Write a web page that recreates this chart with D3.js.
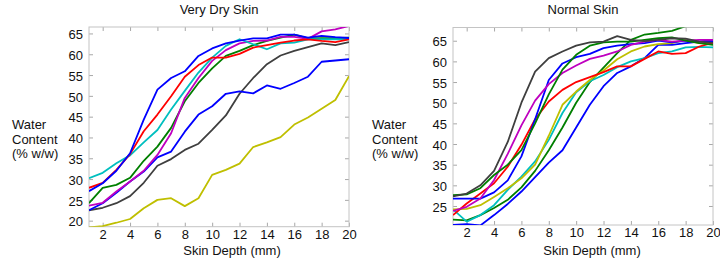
<!DOCTYPE html>
<html>
<head>
<meta charset="utf-8">
<script src="https://cdn.jsdelivr.net/npm/d3@7"></script>
<style>
  body { margin: 0; background: #fff; }
  svg { display: block; font-family: "Liberation Sans", Arial, sans-serif; }
</style>
</head>
<body>
<svg id="chart" width="720" height="259"></svg>
<script>
// skin depth in mm, shared by both panels
const depth = [1, 2, 3, 4, 5, 6, 7, 8, 9, 10, 11, 12, 13, 14, 15, 16, 17, 18, 19, 20];
const xTicks = [2, 4, 6, 8, 10, 12, 14, 16, 18, 20];
const dryYTicks = [20, 25, 30, 35, 40, 45, 50, 55, 60, 65];
const normalYTicks = [25, 30, 35, 40, 45, 50, 55, 60, 65];

// Very dry skin (% w/w)
const dryBlue1   = [27.1, 29.0, 32.0, 36.2, 44.3, 51.5, 54.3, 55.9, 59.6, 61.4, 62.6, 63.3, 63.8, 63.8, 64.7, 64.7, 64.0, 64.4, 64.1, 63.9];
const dryRed     = [27.9, 29.1, 32.2, 36.0, 41.5, 45.5, 49.9, 54.6, 57.4, 59.2, 59.2, 60.1, 61.6, 62.2, 62.8, 63.3, 63.6, 63.2, 62.9, 63.6];
const dryCyan    = [30.2, 31.5, 33.8, 35.7, 38.8, 41.8, 46.7, 51.2, 55.6, 59.2, 62.0, 63.6, 62.4, 61.2, 62.6, 62.8, 63.6, 63.6, 63.6, 63.6];
const dryMagenta = [23.6, 24.3, 27.0, 29.4, 32.0, 35.8, 41.0, 49.5, 54.3, 58.4, 61.0, 62.6, 63.2, 63.3, 64.2, 64.2, 63.7, 65.5, 66.0, 66.8];
const dryGreen   = [24.2, 27.9, 28.6, 30.3, 34.4, 37.8, 42.3, 48.7, 53.1, 56.6, 59.6, 60.8, 62.2, 63.2, 64.0, 64.7, 63.8, 63.9, 63.9, 64.0];
const dryBlue2   = [22.5, 24.2, 26.7, 29.4, 31.8, 35.2, 36.6, 41.4, 45.5, 47.5, 50.5, 51.1, 50.6, 52.5, 51.7, 53.1, 54.6, 58.2, 58.5, 58.8];
const dryBlack   = [22.5, 23.1, 24.2, 25.9, 29.1, 33.2, 34.8, 37.0, 38.5, 41.8, 45.3, 50.5, 54.3, 57.6, 59.7, 60.8, 61.7, 62.6, 62.2, 62.9];
const dryYellow  = [18.4, 18.7, 19.5, 20.4, 23.0, 25.0, 25.4, 23.5, 25.4, 31.0, 32.2, 33.7, 37.7, 38.8, 40.1, 43.1, 44.8, 46.9, 49.0, 54.7];

// Normal skin (% w/w)
const normBlack   = [27.3, 28.0, 30.0, 33.5, 40.5, 50.0, 57.5, 60.8, 62.4, 63.8, 64.6, 64.8, 66.1, 65.2, 64.9, 65.2, 65.6, 65.5, 64.8, 64.5];
const normMagenta = [23.8, 24.8, 26.8, 31.3, 37.6, 44.5, 50.5, 54.5, 57.2, 59.0, 60.6, 61.4, 62.4, 64.0, 64.8, 65.2, 64.8, 65.0, 65.2, 65.2];
const normBlue1   = [26.8, 26.8, 26.8, 28.3, 31.2, 37.0, 46.0, 55.5, 59.5, 61.0, 61.8, 63.2, 63.8, 64.2, 64.4, 65.0, 64.6, 65.0, 64.8, 65.2];
const normBlue2   = [20.4, 20.6, 20.3, 22.8, 25.5, 28.5, 32.0, 35.5, 38.5, 44.0, 49.5, 54.0, 57.2, 58.8, 60.8, 64.0, 64.0, 64.4, 64.8, 64.8];
const normRed     = [22.8, 25.6, 28.0, 30.5, 34.5, 39.8, 46.0, 50.3, 53.1, 55.0, 56.2, 57.4, 58.8, 58.8, 60.6, 62.4, 61.8, 62.0, 63.6, 64.5];
const normYellow  = [24.2, 24.3, 25.2, 27.2, 29.3, 31.7, 35.0, 42.0, 49.5, 52.7, 55.5, 57.8, 60.5, 62.4, 63.6, 64.2, 64.4, 65.2, 64.4, 64.4];
const normCyan    = [24.2, 21.2, 22.8, 25.2, 28.9, 32.1, 35.8, 41.0, 47.5, 52.5, 55.2, 56.7, 58.6, 60.0, 60.8, 62.0, 62.4, 63.4, 63.5, 63.4];
const normGreen1  = [27.6, 27.8, 29.3, 32.5, 35.0, 38.5, 45.0, 52.0, 58.0, 61.6, 63.8, 64.6, 64.8, 64.8, 65.2, 65.6, 65.8, 65.0, 64.4, 64.0];
const normGreen2  = [21.7, 21.5, 22.8, 24.5, 26.5, 29.5, 33.5, 38.5, 44.0, 50.0, 55.0, 58.5, 62.0, 65.2, 66.5, 66.9, 67.4, 68.5, 68.8, 68.5];

const COLORS = {
    blue: "#0000ff", red: "#ff0000", cyan: "#00bfbf", magenta: "#bf00bf",
    green: "#007f00", black: "#3f3f3f", yellow: "#bfbf00"
};
const FRAME = "#c4c4c4";
const TICK = "#a8a8a8";

const panels = [
    {
        title: "Very Dry Skin", left: 89, top: 27, bottom: 226.7, yDomain: [18.55, 66.55], yTicks: dryYTicks,
        titleX: 219, xLabelX: 232, yLabelX: 12,
        series: [
            [dryYellow, COLORS.yellow], [dryBlack, COLORS.black], [dryBlue2, COLORS.blue],
            [dryGreen, COLORS.green], [dryMagenta, COLORS.magenta], [dryCyan, COLORS.cyan],
            [dryRed, COLORS.red], [dryBlue1, COLORS.blue]
        ]
    },
    {
        title: "Normal Skin", left: 453, top: 27.5, bottom: 225, yDomain: [20.4, 68.2], yTicks: normalYTicks,
        titleX: 583, xLabelX: 592, yLabelX: 372,
        series: [
            [normBlue2, COLORS.blue], [normGreen2, COLORS.green], [normCyan, COLORS.cyan],
            [normYellow, COLORS.yellow], [normRed, COLORS.red], [normBlue1, COLORS.blue],
            [normMagenta, COLORS.magenta], [normGreen1, COLORS.green], [normBlack, COLORS.black]
        ]
    }
];

const svg = d3.select("#chart");
svg.append("rect").attr("width", 720).attr("height", 259).attr("fill", "#fff");

panels.forEach((p, i) => drawPanel(p, i));

function drawPanel(p, idx) {
    const width = 260;
    const right = p.left + width;
    const x = d3.scaleLinear().domain([1, 20]).range([p.left, right]);
    const y = d3.scaleLinear().domain(p.yDomain).range([p.bottom, p.top]);

    const g = svg.append("g");

    g.append("clipPath").attr("id", `clip${idx}`)
        .append("rect")
        .attr("x", p.left).attr("y", p.top)
        .attr("width", width).attr("height", p.bottom - p.top);

    // inward ticks on all four sides
    const styleAxis = sel => {
        sel.select(".domain").remove();
        sel.selectAll(".tick line").attr("stroke", TICK);
        sel.selectAll(".tick text").attr("fill", "#111").style("font-size", "13px");
    };

    g.append("g").attr("transform", `translate(0,${p.bottom})`)
        .call(d3.axisBottom(x).tickValues(xTicks).tickSizeInner(-4).tickSizeOuter(0).tickPadding(3))
        .call(styleAxis);
    g.append("g").attr("transform", `translate(0,${p.top})`)
        .call(d3.axisTop(x).tickValues(xTicks).tickSizeInner(-4).tickSizeOuter(0).tickFormat(""))
        .call(styleAxis);
    g.append("g").attr("transform", `translate(${p.left},0)`)
        .call(d3.axisLeft(y).tickValues(p.yTicks).tickSizeInner(-4).tickSizeOuter(0).tickPadding(6))
        .call(styleAxis)
        .call(s => s.selectAll(".tick text").attr("dy", "0.4em"));
    g.append("g").attr("transform", `translate(${right},0)`)
        .call(d3.axisRight(y).tickValues(p.yTicks).tickSizeInner(-4).tickSizeOuter(0).tickFormat(""))
        .call(styleAxis);

    g.append("rect")
        .attr("x", p.left).attr("y", p.top)
        .attr("width", width).attr("height", p.bottom - p.top)
        .attr("fill", "none").attr("stroke", FRAME);

    const line = d3.line().x((d, j) => x(depth[j])).y(d => y(d));

    g.append("g").attr("clip-path", `url(#clip${idx})`)
        .selectAll("path")
        .data(p.series)
        .join("path")
        .attr("fill", "none")
        .attr("stroke", d => d[1])
        .attr("stroke-width", 1.8)
        .attr("stroke-linejoin", "round")
        .attr("d", d => line(d[0]));

    g.append("text")
        .attr("x", p.titleX).attr("y", 14)
        .attr("text-anchor", "middle")
        .style("font-size", "13px").attr("fill", "#111")
        .text(p.title);

    g.append("text")
        .attr("x", p.xLabelX).attr("y", 255)
        .attr("text-anchor", "middle")
        .style("font-size", "13px").attr("fill", "#111")
        .text("Skin Depth (mm)");

    const yl = g.append("text")
        .attr("x", p.yLabelX).attr("y", 129)
        .style("font-size", "13px").attr("fill", "#111");
    ["Water", "Content", "(% w/w)"].forEach((t, k) => {
        yl.append("tspan").attr("x", p.yLabelX).attr("dy", k === 0 ? 0 : 14.5).text(t);
    });
}
</script>
</body>
</html>
